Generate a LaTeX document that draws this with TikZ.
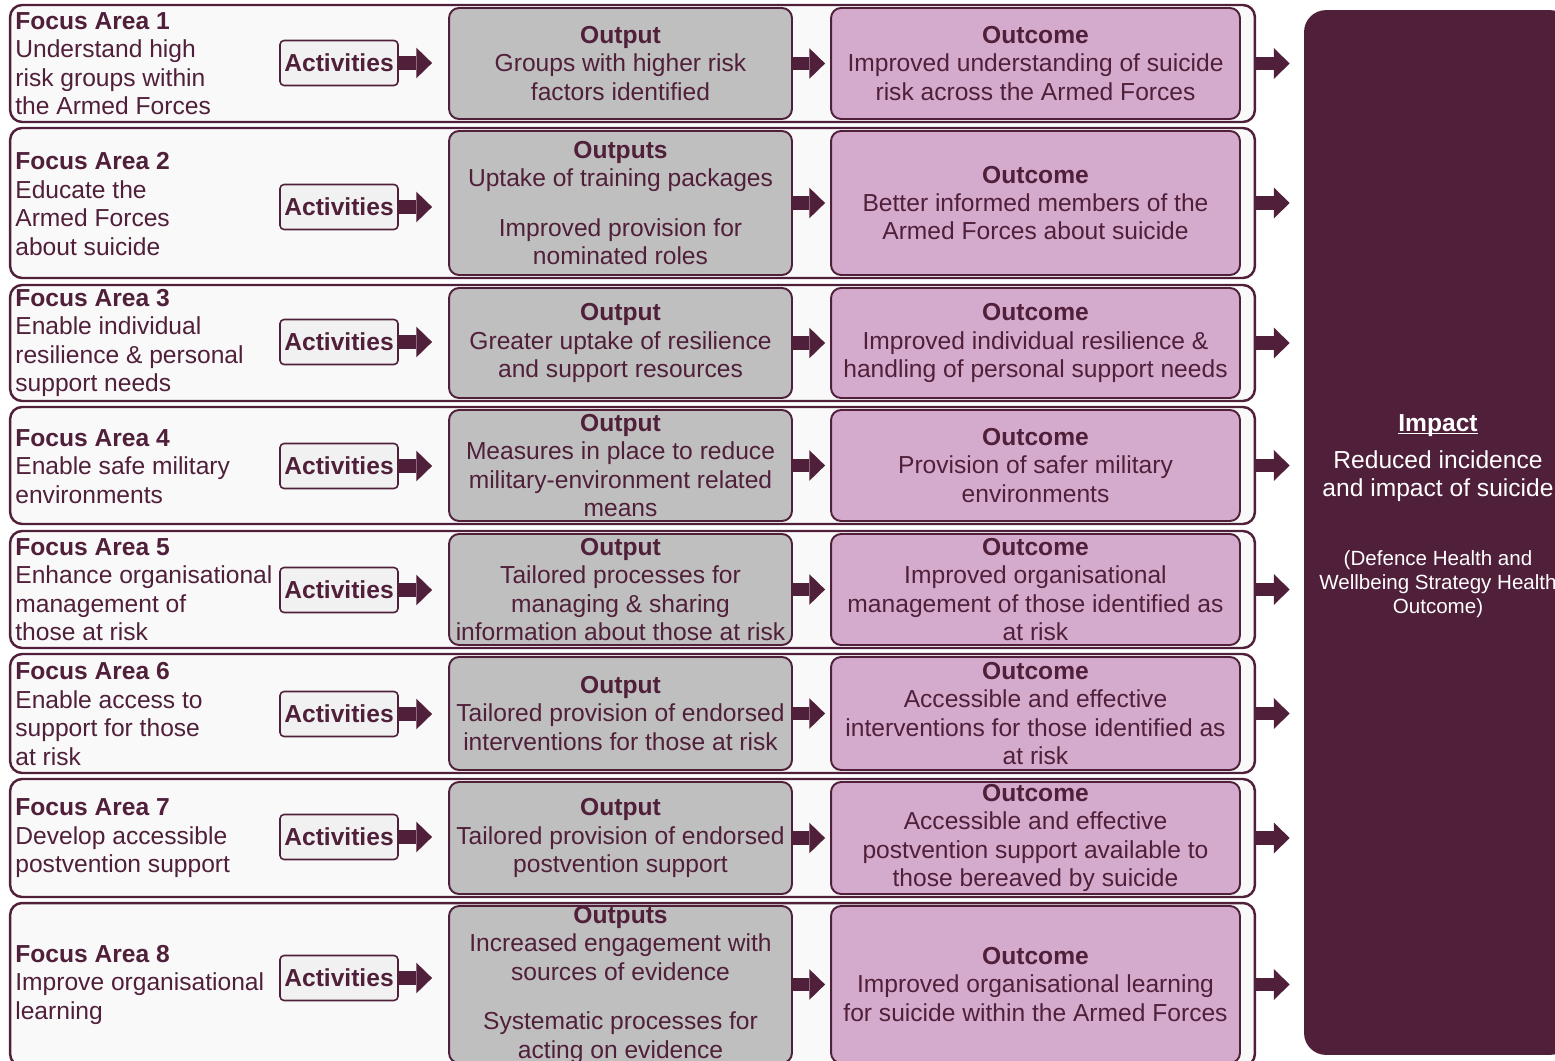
\documentclass[tikz,border=0pt]{standalone}
\usepackage{fontspec}
\setmainfont{Liberation Sans}
\usetikzlibrary{arrows.meta}

\definecolor{plum}{RGB}{80,31,58}
\definecolor{rowgrey}{RGB}{249,249,249}
\definecolor{actgrey}{RGB}{241,241,241}
\definecolor{outgrey}{RGB}{191,191,191}
\definecolor{ocpink}{RGB}{213,171,205}

\begin{document}
\begin{tikzpicture}[
    x=0.02cm, y=-0.02cm,
    font=\fontsize{14}{16.2}\selectfont, text=plum,
    rowbox/.style={draw=plum, line width=1.4pt, rounded corners=6.8pt, fill=rowgrey, minimum width=24.9cm, inner sep=0pt},
    outbox/.style={draw=plum, line width=1.1pt, rounded corners=5.7pt, fill=outgrey, minimum width=6.86cm, inner sep=0pt},
    ocbox/.style={draw=plum, line width=1.1pt, rounded corners=5.7pt, fill=ocpink, minimum width=8.18cm, inner sep=0pt},
    actbox/.style={draw=plum, line width=0.9pt, rounded corners=2.3pt, fill=actgrey, minimum width=2.36cm, minimum height=0.9cm, inner sep=0pt, font=\fontsize{14}{16.2}\selectfont\bfseries},
    focus/.style={anchor=west, align=left, inner sep=0pt},
    boxtext/.style={align=center, inner sep=0pt},
    impactbox/.style={fill=plum, rounded corners=12.5pt, minimum width=5.36cm, minimum height=20.9cm, inner sep=0pt},
    impacttext/.style={align=center, inner sep=0pt, text=white},
    arrow/.style={-{Triangle[length=9pt, width=17.5pt, line width=0pt]}, line width=7.6pt, draw=plum}
]
\useasboundingbox (0,0) rectangle (1555,1061);
\fill[white] (0,0) rectangle (1555,1061);
\clip (0,0) rectangle (1555,1061);

% Rows
\node[rowbox, minimum height=2.34cm] (row1) at (632.5,63.5) {};
\node[rowbox, minimum height=3.00cm] (row2) at (632.5,203) {};
\node[rowbox, minimum height=2.32cm] (row3) at (632.5,343) {};
\node[rowbox, minimum height=2.34cm] (row4) at (632.5,465.5) {};
\node[rowbox, minimum height=2.34cm] (row5) at (632.5,589.5) {};
\node[rowbox, minimum height=2.38cm] (row6) at (632.5,713.5) {};
\node[rowbox, minimum height=2.36cm] (row7) at (632.5,838) {};
\node[rowbox, minimum height=3.26cm] (row8) at (632.5,984.5) {};

% Focus areas
\node[focus] (fa1) at (15,63.5) {\textbf{Focus Area 1}\\Understand high\\risk groups within\\the Armed Forces};
\node[focus] (fa2) at (15,204) {\textbf{Focus Area 2}\\Educate the\\Armed Forces\\about suicide};
\node[focus] (fa3) at (15,343) {\textbf{Focus Area 3}\\Enable individual\\resilience \& personal\\support needs};
\node[focus] (fa4) at (15,466.5) {\textbf{Focus Area 4}\\Enable safe military\\environments};
\node[focus] (fa5) at (15,589.5) {\textbf{Focus Area 5}\\Enhance organisational\\management of\\those at risk};
\node[focus] (fa6) at (15,714) {\textbf{Focus Area 6}\\Enable access to\\support for those\\at risk};
\node[focus] (fa7) at (15,838.5) {\textbf{Focus Area 7}\\Develop accessible\\postvention support};
\node[focus] (fa8) at (15,984.5) {\textbf{Focus Area 8}\\Improve organisational\\learning};

% Activities
\node[actbox] (act1) at (339,63) {Activities};
\node[actbox] (act2) at (339,207) {Activities};
\node[actbox] (act3) at (339,342) {Activities};
\node[actbox] (act4) at (339,466) {Activities};
\node[actbox] (act5) at (339,590) {Activities};
\node[actbox] (act6) at (339,714) {Activities};
\node[actbox] (act7) at (339,837) {Activities};
\node[actbox] (act8) at (339,978) {Activities};

% Outputs
\node[outbox, minimum height=2.22cm, label={[boxtext]center:{\textbf{Output}\\Groups with higher risk\\factors identified}}] (out1) at (620.5,63.5) {};
\node[outbox, minimum height=2.88cm, label={[boxtext]center:{\textbf{Outputs}\\Uptake of training packages\\[12pt]Improved provision for\\nominated roles}}] (out2) at (620.5,203) {};
\node[outbox, minimum height=2.20cm, label={[boxtext]center:{\textbf{Output}\\Greater uptake of resilience\\and support resources}}] (out3) at (620.5,343) {};
\node[outbox, minimum height=2.22cm, label={[boxtext]center:{\textbf{Output}\\Measures in place to reduce\\military-environment related\\means}}] (out4) at (620.5,465.5) {};
\node[outbox, minimum height=2.22cm, label={[boxtext]center:{\textbf{Output}\\Tailored processes for\\managing \& sharing\\information about those at risk}}] (out5) at (620.5,589.5) {};
\node[outbox, minimum height=2.26cm, label={[boxtext]center:{\textbf{Output}\\Tailored provision of endorsed\\interventions for those at risk}}] (out6) at (620.5,713.5) {};
\node[outbox, minimum height=2.24cm, label={[boxtext]center:{\textbf{Output}\\Tailored provision of endorsed\\postvention support}}] (out7) at (620.5,838) {};
\node[outbox, minimum height=3.14cm, label={[boxtext]center:{\textbf{Outputs}\\Increased engagement with\\sources of evidence\\[12pt]Systematic processes for\\acting on evidence}}] (out8) at (620.5,984.5) {};

% Outcomes
\node[ocbox, minimum height=2.22cm, label={[boxtext]center:{\textbf{Outcome}\\Improved understanding of suicide\\risk across the Armed Forces}}] (oc1) at (1035.5,63.5) {};
\node[ocbox, minimum height=2.88cm, label={[boxtext]center:{\textbf{Outcome}\\Better informed members of the\\Armed Forces about suicide}}] (oc2) at (1035.5,203) {};
\node[ocbox, minimum height=2.20cm, label={[boxtext]center:{\textbf{Outcome}\\Improved individual resilience \&\\handling of personal support needs}}] (oc3) at (1035.5,343) {};
\node[ocbox, minimum height=2.22cm, label={[boxtext]center:{\textbf{Outcome}\\Provision of safer military\\environments}}] (oc4) at (1035.5,465.5) {};
\node[ocbox, minimum height=2.22cm, label={[boxtext]center:{\textbf{Outcome}\\Improved organisational\\management of those identified as\\at risk}}] (oc5) at (1035.5,589.5) {};
\node[ocbox, minimum height=2.26cm, label={[boxtext]center:{\textbf{Outcome}\\Accessible and effective\\interventions for those identified as\\at risk}}] (oc6) at (1035.5,713.5) {};
\node[ocbox, minimum height=2.24cm, label={[boxtext]center:{\textbf{Outcome}\\Accessible and effective\\postvention support available to\\those bereaved by suicide}}] (oc7) at (1035.5,838) {};
\node[ocbox, minimum height=3.14cm, label={[boxtext]center:{\textbf{Outcome}\\Improved organisational learning\\for suicide within the Armed Forces}}] (oc8) at (1035.5,984.5) {};

% Impact
\node[impactbox] (impact) at (1438,532.5) {};
\node[impacttext] (imptitle) at (1438,458) {\underline{\raisebox{0pt}[\height][0pt]{\textbf{Impact}}}\\[4.8pt]Reduced incidence\\and impact of suicide};
\node[impacttext, font=\fontsize{11.7}{13.6}\selectfont] (impnote) at (1438,584) {(Defence Health and\\Wellbeing Strategy Health\\Outcome)};

% Arrows
\foreach \i in {1,...,8} {
  \draw[arrow, shorten >=0.32cm] (act\i.east) -- (act\i.east -| out\i.west);
  \draw[arrow, shorten >=0.1cm] (out\i.east) -- (oc\i.west);
  \draw[arrow, shorten >=0.28cm] (row\i.east) -- (row\i.east -| impact.west);
}

\end{tikzpicture}
\end{document}
